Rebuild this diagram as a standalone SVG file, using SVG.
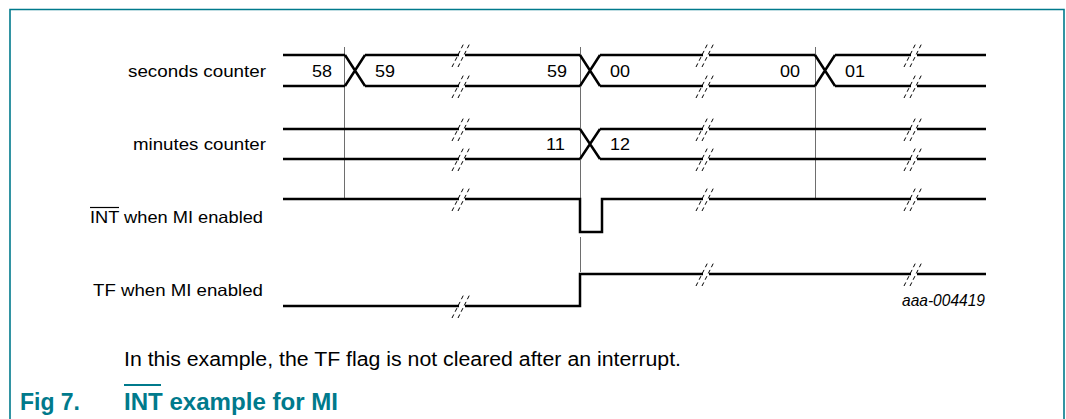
<svg xmlns="http://www.w3.org/2000/svg" width="1066" height="419" viewBox="0 0 1066 419">
<style>
.sig{fill:none;stroke:#000;stroke-width:2.5;stroke-linejoin:miter}
.grid{fill:none;stroke:#6e6e6e;stroke-width:1}
.brk{fill:none;stroke:#000;stroke-width:1;stroke-dasharray:4 3}
.lbl{font-family:"Liberation Sans",Arial,sans-serif;font-size:16.5px;fill:#000}
.cap{font-family:"Liberation Sans",Arial,sans-serif;font-size:19.5px;fill:#000}
.fig{font-family:"Liberation Sans",Arial,sans-serif;font-size:23px;font-weight:bold;fill:#007a8c}
</style>
<defs>
<g id="brk"><path class="brk" d="M-10,12 L2,-12 M-4,12 L8,-12"/></g>
</defs>
<rect width="1066" height="419" fill="#fff"/>
<path d="M10,419 V9.5 H1064 V419" fill="none" stroke="#007a8c" stroke-width="1.6"/>

<g id="connectors">
<g id="gridlines">
<path class="grid" d="M344.5,47 V199 M580.5,47 V199 M580.5,237 V272 M815.5,47 V199"/>
</g>
<g id="seconds-counter">
<path class="sig" d="M283,55 H345 M365,55 H459 M465,55 H580 M600,55 H703 M709,55 H815 M835,55 H911 M917,55 H986"/>
<path class="sig" d="M283,86 H345 M365,86 H459 M465,86 H580 M600,86 H703 M709,86 H815 M835,86 H911 M917,86 H986"/>
<path class="sig" d="M345,55 L365,86 M345,86 L365,55 M580,55 L600,86 M580,86 L600,55 M815,55 L835,86 M815,86 L835,55"/>
<use href="#brk" x="462" y="55"/><use href="#brk" x="462" y="86"/>
<use href="#brk" x="706" y="55"/><use href="#brk" x="706" y="86"/>
<use href="#brk" x="914" y="55"/><use href="#brk" x="914" y="86"/>
</g>
<g id="minutes-counter">
<path class="sig" d="M283,129 H459 M465,129 H580 M600,129 H703 M709,129 H911 M917,129 H986"/>
<path class="sig" d="M283,159 H459 M465,159 H580 M600,159 H703 M709,159 H911 M917,159 H986"/>
<path class="sig" d="M580,129 L600,159 M580,159 L600,129"/>
<use href="#brk" x="462" y="129"/><use href="#brk" x="462" y="159"/>
<use href="#brk" x="706" y="129"/><use href="#brk" x="706" y="159"/>
<use href="#brk" x="914" y="129"/><use href="#brk" x="914" y="159"/>
</g>
<g id="int-signal">
<path class="sig" d="M283,199 H459 M465,199 H580 V232 H602 V199 H703 M709,199 H911 M917,199 H986"/>
<use href="#brk" x="462" y="199"/><use href="#brk" x="706" y="199"/><use href="#brk" x="914" y="199"/>
</g>
<g id="tf-signal">
<path class="sig" d="M283,306 H459 M465,306 H580 V274 H703 M709,274 H911 M917,274 H986"/>
<use href="#brk" x="462" y="306"/><use href="#brk" x="706" y="274"/><use href="#brk" x="914" y="274"/>
</g>
</g>

<g id="label-seconds"><text class="lbl" x="128" y="77" textLength="138" lengthAdjust="spacingAndGlyphs">seconds counter</text></g>
<g id="label-minutes"><text class="lbl" x="133" y="150" textLength="133" lengthAdjust="spacingAndGlyphs">minutes counter</text></g>
<g id="label-int"><text class="lbl" x="90" y="223" textLength="173" lengthAdjust="spacingAndGlyphs">INT when MI enabled</text>
<line x1="90" y1="207.5" x2="119" y2="207.5" stroke="#000" stroke-width="1.2"/></g>
<g id="label-tf"><text class="lbl" x="93" y="296" textLength="170" lengthAdjust="spacingAndGlyphs">TF when MI enabled</text></g>

<g id="values">
<text class="lbl" x="312" y="77" textLength="20" lengthAdjust="spacingAndGlyphs">58</text>
<text class="lbl" x="375" y="77" textLength="20" lengthAdjust="spacingAndGlyphs">59</text>
<text class="lbl" x="547" y="77" textLength="20" lengthAdjust="spacingAndGlyphs">59</text>
<text class="lbl" x="610" y="77" textLength="20" lengthAdjust="spacingAndGlyphs">00</text>
<text class="lbl" x="780" y="77" textLength="20" lengthAdjust="spacingAndGlyphs">00</text>
<text class="lbl" x="845" y="77" textLength="20" lengthAdjust="spacingAndGlyphs">01</text>
<text class="lbl" x="546" y="150" textLength="19" lengthAdjust="spacingAndGlyphs">11</text>
<text class="lbl" x="610" y="150" textLength="20" lengthAdjust="spacingAndGlyphs">12</text>
</g>
<g id="ref"><text class="lbl" x="902" y="306" font-style="italic" font-size="14" textLength="83" lengthAdjust="spacingAndGlyphs">aaa-004419</text></g>

<g id="caption">
<text class="cap" x="124" y="366" textLength="557" lengthAdjust="spacingAndGlyphs">In this example, the TF flag is not cleared after an interrupt.</text>
<text class="fig" x="20" y="410" textLength="60" lengthAdjust="spacingAndGlyphs">Fig 7.</text>
<text class="fig" x="124" y="410" textLength="214" lengthAdjust="spacingAndGlyphs">INT example for MI</text>
<line x1="124" y1="385" x2="161" y2="385" stroke="#007a8c" stroke-width="2"/>
</g>
</svg>
